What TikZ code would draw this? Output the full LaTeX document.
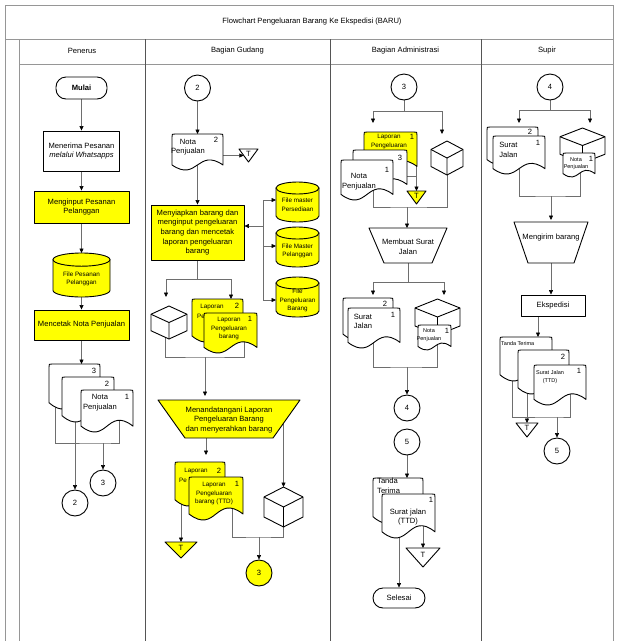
\documentclass[tikz,border=0pt]{standalone}
\usepackage{fontspec}
\setmainfont{Liberation Sans}
\usetikzlibrary{arrows.meta,calc}

\pgfdeclarelayer{paper}
\pgfdeclarelayer{wires}
\pgfsetlayers{paper,wires,main}

\definecolor{fcyellow}{RGB}{255,255,0}
\definecolor{framegray}{RGB}{150,150,150}
\definecolor{lanegray}{RGB}{85,85,85}
\definecolor{wiregray}{RGB}{110,110,110}

\tikzset{
  txt/.style={font=\fontsize{7.6}{9.6}\selectfont, align=center, inner sep=0pt},
  small/.style={font=\fontsize{6.3}{8.6}\selectfont, align=center, inner sep=0pt},
  tiny/.style={font=\fontsize{5.5}{7.6}\selectfont, align=center, inner sep=0pt},
  outline/.style={draw=black, line width=0.9pt, line join=round},
  box/.style={outline, txt, fill=white},
  ybox/.style={box, fill=fcyellow},
  term/.style={box, rounded corners=10pt},
  conn/.style={circle, outline, fill=white, minimum size=26pt, txt},
  hold/.style={inner sep=0pt, outer sep=0pt},
  wire/.style={draw=wiregray, line width=0.6pt},
  flow/.style={wire, -{Triangle[width=4pt,length=4.5pt,color=black]}},
  frame/.style={draw=framegray, line width=0.8pt},
  lane/.style={draw=lanegray, line width=0.8pt},
}

% document symbol: name, left, top, right, height, fill
\newcommand\docsym[6]{%
  \node[hold, anchor=north west, minimum width={(#4)-(#2)}, minimum height=#5] (#1) at (#2,#3) {};
  \pgfmathsetmacro\fcYb{#3+0.86*#5}%
  \pgfmathsetmacro\fcAm{0.485*#5}%
  \pgfmathsetmacro\fcXm{(#2+#4)/2}%
  \filldraw[outline, fill=#6] (#2,\fcYb) -- (#2,#3+3) .. controls (#2,#3) .. (#2+3,#3)
    -- (#4-3,#3) .. controls (#4,#3) .. (#4,#3+3) -- (#4,\fcYb)
    .. controls (\fcXm,\fcYb-\fcAm) and (\fcXm,\fcYb+\fcAm) .. (#2,\fcYb) -- cycle;
}

% box (goods) symbol: name, cx, cy, w, h
\newcommand\cubesym[5]{%
  \node[hold, minimum width=#4, minimum height=#5] (#1) at (#2,#3) {};
  \filldraw[outline, fill=white] (#2,#3-#5/2) -- (#2+#4/2,#3-#5/4) -- (#2+#4/2,#3+#5/4)
    -- (#2,#3+#5/2) -- (#2-#4/2,#3+#5/4) -- (#2-#4/2,#3-#5/4) -- cycle;
  \draw[outline] (#2-#4/2,#3-#5/4) -- (#2,#3) -- (#2+#4/2,#3-#5/4) (#2,#3) -- (#2,#3+#5/2);
}

% database symbol: name, cx, cy, w, h, fill
\newcommand\dbsym[6]{%
  \node[hold, minimum width=#4, minimum height=#5] (#1) at (#2,#3) {};
  \pgfmathsetmacro\fcRy{0.15*#5}%
  \pgfmathsetmacro\fcTop{#3-#5/2+\fcRy}%
  \pgfmathsetmacro\fcBot{#3+#5/2-\fcRy}%
  \pgfmathsetmacro\fcL{#2-#4/2}%
  \pgfmathsetmacro\fcR{#2+#4/2}%
  \pgfmathsetmacro\fcKx{0.5523*#4/2}%
  \pgfmathsetmacro\fcKy{0.5523*\fcRy}%
  \filldraw[outline, fill=#6] (\fcL,\fcTop) -- (\fcL,\fcBot)
    .. controls (\fcL,\fcBot+\fcKy) and (#2-\fcKx,\fcBot+\fcRy) .. (#2,\fcBot+\fcRy)
    .. controls (#2+\fcKx,\fcBot+\fcRy) and (\fcR,\fcBot+\fcKy) .. (\fcR,\fcBot)
    -- (\fcR,\fcTop) -- cycle;
  \filldraw[outline, fill=#6] (#2,\fcTop) ellipse [x radius=#4/2, y radius=\fcRy];
}

% off-line storage triangle: name, cx, top, w, h, fill
\newcommand\trisym[6]{%
  \node[hold, anchor=north, minimum width=#4, minimum height=#5] (#1) at (#2,#3) {};
  \filldraw[outline, fill=#6] (#2-#4/2,#3) -- (#2+#4/2,#3) -- (#2,#3+#5) -- cycle;
  \node[txt] at (#2,#3+#5*0.38) {T};
}

% manual operation: name, cx, top, top width, bottom width, h, fill
\newcommand\trapsym[7]{%
  \node[hold, anchor=north, minimum width=#4, minimum height=#6] (#1) at (#2,#3) {};
  \filldraw[outline, fill=#7] (#2-#4/2,#3) -- (#2+#4/2,#3) -- (#2+#5/2,#3+#6) -- (#2-#5/2,#3+#6) -- cycle;
}

\begin{document}
\begin{tikzpicture}[x=1pt, y=-1pt]
\useasboundingbox (0,0) rectangle (617,641);
\begin{pgfonlayer}{paper}
  \fill[white] (0,0) rectangle (617,641);
\end{pgfonlayer}

% ---- swimlane frame ----
\draw[frame] (5,641) -- (5,5) -- (613,5) -- (613,641);
\draw[frame] (5,39) -- (613,39);
\draw[frame] (19,39) -- (19,641);
\draw[frame] (19,64) -- (613,64);
\draw[lane] (145,39) -- (145,641);
\draw[lane] (330,39) -- (330,641);
\draw[lane] (481,39) -- (481,641);

\node[txt] (title) at (312,22) {Flowchart Pengeluaran Barang Ke Ekspedisi (BARU)};
\node[txt] (h1) at (82,51) {Penerus};
\node[txt] (h2) at (237.5,51) {Bagian Gudang};
\node[txt] (h3) at (405.5,51) {Bagian Administrasi};
\node[txt] (h4) at (547,51) {Supir};

% ---- Penerus ----
\node[term, minimum width=51, minimum height=22] (mulai) at (81.5,88) {\textbf{Mulai}};
\node[box, minimum width=76, minimum height=40] (menerima) at (81.5,151) {Menerima Pesanan\\\textit{melalui Whatsapps}};
\node[ybox, minimum width=95, minimum height=32] (menginput) at (81.5,207) {Menginput Pesanan\\Pelanggan};
\dbsym{dbpesan}{81.5}{275}{57}{44}{fcyellow}
\node[small] at (81.5,279) {File Pesanan\\Pelanggan};
\node[ybox, minimum width=95, minimum height=30] (mencetak) at (81.5,325) {Mencetak Nota Penjualan};
\docsym{pnota3}{49}{364}{100}{45}{white}
\node[txt] at (94,371) {3};
\docsym{pnota2}{62}{377}{114}{45}{white}
\node[txt] at (107,384) {2};
\docsym{pnota1}{81}{390}{133}{42}{white}
\node[txt] at (127,397) {1};
\node[txt] at (100,402.5) {Nota\\Penjualan};
\node[conn] (pc3) at (103,483) {3};
\node[conn] (pc2) at (75,503) {2};

% ---- Bagian Gudang ----
\node[conn] (gc2) at (197.5,88) {2};
\docsym{gnota}{172}{134}{223}{36}{white}
\node[txt] at (188,147) {Nota\\Penjualan};
\node[txt] at (216,140) {2};
\trisym{gtri}{248.5}{149}{19}{13}{white}
\node[ybox, minimum width=93, minimum height=55] (gbox) at (197.5,232.5)
  {Menyiapkan barang dan\\menginput pengeluaran\\barang dan mencetak\\laporan pengeluaran\\barang};
\dbsym{gdb1}{297.5}{202}{43}{40}{fcyellow}
\node[small] at (297.5,205) {File master\\Persediaan};
\dbsym{gdb2}{297.5}{247}{43}{40}{fcyellow}
\node[small] at (297.5,251) {File Master\\Pelanggan};
\dbsym{gdb3}{297.5}{297}{43}{40}{fcyellow}
\node[small] at (297.5,300.5) {File\\Pengeluaran\\Barang};
\cubesym{gcube1}{169}{322.5}{36}{33}
\docsym{glap2}{192}{299}{243}{43}{fcyellow}
\node[small] at (212,307) {Laporan};
\node[small] at (201,316) {Pe};
\node[txt] at (237,306) {2};
\docsym{glap1}{204}{313}{257}{40}{fcyellow}
\node[small] at (229,328.5) {Laporan\\Pengeluaran\\barang};
\node[txt] at (250,319) {1};
\trapsym{gtrap}{229}{400}{142}{88}{38}{fcyellow}
\node[txt] at (229,420) {Menandatangani Laporan\\Pengeluaran Barang\\dan menyerahkan barang};
\docsym{gttd2}{175}{462}{225}{44}{fcyellow}
\node[small] at (196,471) {Laporan};
\node[small] at (183,480) {Pe};
\node[txt] at (219,471) {2};
\docsym{gttd1}{189}{477}{243}{43}{fcyellow}
\node[small] at (214,493.5) {Laporan\\Pengeluaran\\barang (TTD)};
\node[txt] at (237,484) {1};
\cubesym{gcube2}{283.5}{507}{39}{40}
\trisym{gtri2}{181}{542}{32}{16}{fcyellow}
\node[conn, fill=fcyellow] (gc3) at (259,573) {3};

% ---- Bagian Administrasi ----
\node[conn] (ac3) at (404,87) {3};
\docsym{alap}{364}{132}{417}{40}{fcyellow}
\node[small] at (389,141.5) {Laporan\\Pengeluaran};
\node[txt] at (412,137) {1};
\docsym{acopy3}{353}{150}{407}{40}{white}
\node[txt] at (400,158) {3};
\docsym{anota}{341}{160}{393}{40}{white}
\node[txt] at (359,181.5) {Nota\\Penjualan};
\node[txt] at (387,170) {1};
\cubesym{acube1}{447}{158}{32}{34}
\trisym{atri1}{416.5}{191}{19}{13}{fcyellow}
\trapsym{atrap}{408}{228}{78}{48}{35}{white}
\node[txt] at (408,247) {Membuat Surat\\Jalan};
\docsym{asj2}{343}{298}{393}{42}{white}
\node[txt] at (385,304) {2};
\docsym{asj1}{348}{308}{400}{40}{white}
\node[txt] at (363,321.5) {Surat\\Jalan};
\node[txt] at (393,315) {1};
\cubesym{acube2}{437.5}{317}{45}{36}
\docsym{anota2}{418}{325}{451}{25}{white}
\node[tiny] at (429,335) {Nota\\Penjualan};
\node[txt] at (447,331) {1};
\node[conn] (ac4) at (407,408) {4};
\node[conn] (ac5) at (407,442) {5};
\docsym{atanda}{373}{478}{423}{45}{white}
\node[txt, align=left, anchor=north west] at (377,478) {Tanda\\Terima};
\docsym{asjttd}{382}{494}{435}{44}{white}
\node[txt] at (408,517) {Surat jalan\\(TTD)};
\node[txt] at (431,500) {1};
\trisym{atri2}{423}{548}{34}{19}{white}
\node[term, minimum width=52, minimum height=20] (selesai) at (399,598) {Selesai};

% ---- Supir ----
\node[conn] (sc4) at (550,87) {4};
\docsym{ssj2}{487}{127}{538}{38}{white}
\node[txt] at (530,132) {2};
\docsym{ssj1}{493}{136}{545}{38}{white}
\node[txt] at (508.5,150) {Surat\\Jalan};
\node[txt] at (538,143) {1};
\cubesym{scube}{582.5}{145.5}{45}{35}
\docsym{snota}{563}{153}{595}{24}{white}
\node[tiny] at (576,163.5) {Nota\\Penjualan};
\node[txt] at (591,159) {1};
\trapsym{strap}{551}{222}{74}{46}{41}{white}
\node[txt] at (551,238) {Mengirim barang};
\node[box, minimum width=64, minimum height=21] (seksp) at (553,305.5) {Ekspedisi};
\docsym{standa}{500}{337}{552}{44}{white}
\node[tiny, anchor=west] at (501,344) {Tanda Terima};
\docsym{scopy2}{518}{350}{569}{44}{white}
\node[txt] at (563,357) {2};
\docsym{ssjttd}{534}{365}{586}{40}{white}
\node[tiny] at (550,377) {Surat Jalan\\(TTD)};
\node[txt] at (579,371) {1};
\trisym{stri}{527}{423}{22}{14}{white}
\node[conn] (sc5) at (557,451) {5};

% ---- connectors ----
\begin{pgfonlayer}{wires}
  % Penerus
  \draw[flow] (mulai) -- (menerima);
  \draw[flow] (menerima) -- (menginput);
  \draw[flow] (menginput) -- (dbpesan);
  \draw[flow] (dbpesan) -- (mencetak);
  \draw[flow] (mencetak) -- (mencetak |- pnota3.north);
  \coordinate (pjoin) at (103,443);
  \draw[wire] ([xshift=6pt]pnota3.west) |- (pjoin) -| ([xshift=-14pt]pnota1.east);
  \draw[flow] (pjoin) -- (pc3);
  \draw[flow] (pnota2.center -| pc2) -- (pc2);

  % Bagian Gudang
  \draw[flow] (gc2) -- (gc2 |- gnota.north);
  \draw[flow] (gnota.east |- gtri.west) -- ([xshift=4.75pt]gtri.west);
  \draw[flow] (gnota.center) -- (gnota.center |- gbox.north);
  \coordinate (gvt) at (263,200);
  \coordinate (gvm) at (263,226);
  \coordinate (gv2) at (263,246);
  \coordinate (gvb) at (263,300);
  \draw[wire] (gvt) -- (gvb);
  \draw[flow] (gvt) -- (gvt -| gdb1.west);
  \draw[flow] (gv2) -- (gv2 -| gdb2.west);
  \draw[flow] (gvb) -- (gvb -| gdb3.west);
  \draw[flow] (gvm) -- (gvm -| gbox.east);
  \coordinate (gsl) at (166,279);
  \coordinate (gsr) at (231,279);
  \draw[wire] (gbox.south) -- (gbox.south |- gsl);
  \draw[wire] (gsl) -- (gsr);
  \draw[flow] (gsl) -- ($(gsl |- gcube1.north)+(0,-9)$);
  \draw[flow] (gsr) -- (gsr |- glap2.north);
  \coordinate (gj1) at (205,357);
  \draw[wire] ([xshift=-4pt]gcube1.center) |- (gj1) -| ([xshift=-13pt]glap1.east);
  \draw[flow] (gj1) -- ($(gj1 |- gtrap.north)+(0,-4)$);
  \coordinate (gtl) at ([xshift=-23pt]gtrap.south);
  \draw[flow] (gtl) -- ($(gtl |- gttd2.north)+(0,-7)$);
  \draw[flow] (gcube2 |- gtrap.center) -- (gcube2.north);
  \draw[flow] (gttd2.center -| gtri2) -- (gtri2.north);
  \coordinate (gj2) at (259,537);
  \draw[wire] ([xshift=-11pt]gttd1.east) |- (gj2) -| (gcube2.center);
  \draw[flow] (gj2) -- (gc3);

  % Bagian Administrasi
  \coordinate (aj0) at (404,111);
  \coordinate (ajl) at (373,111);
  \coordinate (ajr) at (442,111);
  \draw[wire] (ac3) -- (aj0);
  \draw[wire] (ajl) -- (ajr);
  \draw[flow] (ajl) -- ($(ajl |- alap.north)+(0,-9)$);
  \draw[flow] (ajr) -- ($(ajr |- acube1.north)+(0,-7)$);
  \draw[flow] (atri1 |- alap.center) -- (atri1.north);
  \coordinate (a3j) at (416.5,176);
  \draw[wire] (a3j -| acopy3.east) -- (a3j);
  \coordinate (aj1) at (407,207);
  \draw[wire] ([xshift=-20pt]anota.east) |- (aj1) -| (acube1.center);
  \draw[flow] (aj1) -- (aj1 |- atrap.north);
  \coordinate (aj2) at (408,282);
  \coordinate (aj2l) at (373,282);
  \coordinate (aj2r) at (444,282);
  \draw[wire] (atrap.south) -- (aj2);
  \draw[wire] (aj2l) -- (aj2r);
  \draw[flow] (aj2l) -- ($(aj2l |- asj2.north)+(0,-3)$);
  \draw[flow] (aj2r) -- ($(aj2r |- acube2.north)+(0,-4)$);
  \coordinate (aj3) at (407,367);
  \draw[wire] ([xshift=-27pt]asj1.east) |- (aj3) -| ([xshift=-14pt]anota2.east);
  \draw[flow] (aj3) -- (ac4);
  \draw[flow] (ac5) -- (ac5 |- atanda.north);
  \draw[flow] (atri2 |- asjttd.center) -- (atri2.north);
  \draw[flow] (asjttd.center -| selesai) -- (selesai);

  % Supir
  \coordinate (sj0) at (550,110);
  \coordinate (sjl) at (519,110);
  \coordinate (sjr) at (590,110);
  \draw[wire] (sc4) -- (sj0);
  \draw[wire] (sjl) -- (sjr);
  \draw[flow] (sjl) -- ($(sjl |- ssj2.north)+(0,-4)$);
  \draw[flow] (sjr) -- ($(sjr |- scube.north)+(0,-5)$);
  \coordinate (sj1) at (551,196);
  \draw[wire] ([xshift=-26pt]ssj1.east) |- (sj1) -| ([xshift=-15pt]snota.east);
  \draw[flow] (sj1) -- ($(sj1 |- strap.north)+(0,-2)$);
  \draw[flow] (strap.south) -- (strap.south |- seksp.north);
  \coordinate (sek) at ([xshift=-15pt]seksp.south);
  \draw[flow] (sek) -- (sek |- standa.north);
  \coordinate (sj2) at (557,417);
  \draw[wire] ([xshift=12pt]standa.west) |- (sj2) -| ([xshift=-16pt]ssjttd.east);
  \draw[flow] (scopy2.center -| stri) -- (stri.north);
  \draw[flow] (sj2) -- (sc5);
\end{pgfonlayer}
\end{tikzpicture}
\end{document}
